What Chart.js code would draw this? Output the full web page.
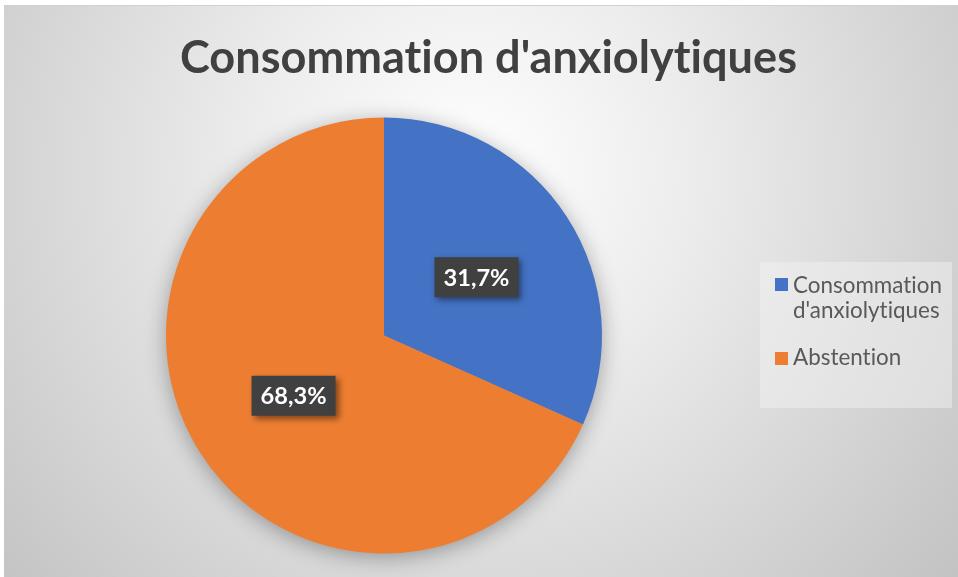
<!DOCTYPE html>
<html>
<head>
<meta charset="utf-8">
<script src="https://cdn.jsdelivr.net/npm/chart.js@4"></script>
<style>
html,body{margin:0;padding:0;background:#fff;}
canvas{display:block;font-variant-ligatures:none;}
</style>
</head>
<body>
<canvas id="c" width="958" height="577"></canvas>
<script>
const chartTitle = "Consommation d'anxiolytiques";
const categories = ["Consommation d'anxiolytiques", "Abstention"];
const legendLines = [["Consommation", "d'anxiolytiques"], ["Abstention"]];
const values = [31.7, 68.3];
const valueLabels = ["31,7%", "68,3%"];
const sliceColors = ["#4472C4", "#ED7D31"];

const FONT = "Lato, 'Open Sans', sans-serif";

function noLig(ctx) {
  if ('letterSpacing' in ctx) ctx.letterSpacing = '0.01px';
}
function fitFont(ctx, text, weight, target) {
  ctx.font = weight + " 100px " + FONT;
  noLig(ctx);
  const w = ctx.measureText(text).width;
  return 100 * target / w;
}

const bgPlugin = {
  id: 'bg',
  beforeDraw(chart) {
    const ctx = chart.ctx;
    ctx.save();
    ctx.fillStyle = '#ffffff';
    ctx.fillRect(0, 0, chart.width, chart.height);
    const g = ctx.createRadialGradient(470, 170, 0, 470, 170, 640);
    g.addColorStop(0, '#ffffff');
    g.addColorStop(0.35, '#ececec');
    g.addColorStop(1, '#c2c2c2');
    ctx.fillStyle = g;
    ctx.fillRect(4, 5, 954, 572);
    ctx.strokeStyle = '#d0d0d0';
    ctx.lineWidth = 1;
    ctx.beginPath(); ctx.moveTo(4, 5.5); ctx.lineTo(958, 5.5); ctx.stroke();
    // title
    const size = fitFont(ctx, chartTitle, 'bold', 617);
    ctx.font = 'bold ' + size + 'px ' + FONT;
    noLig(ctx);
    ctx.fillStyle = '#404040';
    ctx.textAlign = 'left';
    ctx.textBaseline = 'alphabetic';
    ctx.fillText(chartTitle, 180, 73);
    ctx.restore();
  },
  beforeDatasetsDraw(chart) {
    const arc = chart.getDatasetMeta(0).data[0];
    if (!arc) return;
    const ctx = chart.ctx;
    ctx.save();
    ctx.shadowColor = 'rgba(0,0,0,0.35)';
    ctx.shadowBlur = 22;
    ctx.shadowOffsetY = 4;
    ctx.fillStyle = '#999';
    ctx.beginPath();
    ctx.arc(arc.x, arc.y, arc.outerRadius - 1, 0, Math.PI * 2);
    ctx.fill();
    ctx.restore();
  },
  afterDatasetsDraw(chart) {
    const ctx = chart.ctx;
    const meta = chart.getDatasetMeta(0);
    const fsize = fitFont(ctx, valueLabels[0], 'bold', 66);
    meta.data.forEach((arc, i) => {
      const p = arc.tooltipPosition();
      const bw = 84, bh = 40;
      const bx = p.x - bw / 2 + 1, by = p.y - bh / 2 + 1;
      ctx.save();
      ctx.shadowColor = 'rgba(0,0,0,0.45)';
      ctx.shadowBlur = 6;
      ctx.shadowOffsetX = 3;
      ctx.shadowOffsetY = 3;
      ctx.fillStyle = '#404040';
      ctx.fillRect(bx, by, bw, bh);
      ctx.restore();
      ctx.save();
      ctx.font = 'bold ' + fsize + 'px ' + FONT;
      noLig(ctx);
      ctx.fillStyle = '#ffffff';
      ctx.textAlign = 'center';
      ctx.textBaseline = 'middle';
      ctx.fillText(valueLabels[i], bx + bw / 2, by + bh / 2 + 1);
      ctx.restore();
    });
  },
  afterDraw(chart) {
    const ctx = chart.ctx;
    ctx.save();
    ctx.fillStyle = 'rgba(245,245,245,0.45)';
    ctx.fillRect(760, 262, 192, 146);
    const fs = fitFont(ctx, legendLines[0][0], 'normal', 149);
    ctx.font = fs + 'px ' + FONT;
    noLig(ctx);
    ctx.textAlign = 'left';
    ctx.textBaseline = 'alphabetic';
    const baselines = [[293, 318], [365]];
    const squareY = [278, 352];
    legendLines.forEach((lines, i) => {
      ctx.fillStyle = sliceColors[i];
      ctx.fillRect(775, squareY[i], 13, 13);
      ctx.fillStyle = '#595959';
      lines.forEach((ln, j) => ctx.fillText(ln, 793, baselines[i][j]));
    });
    ctx.restore();
  }
};

new Chart(document.getElementById('c'), {
  type: 'pie',
  data: {
    labels: categories,
    datasets: [{
      data: values,
      backgroundColor: sliceColors,
      borderWidth: 0
    }]
  },
  options: {
    responsive: false,
    animation: false,
    devicePixelRatio: 1,
    layout: { padding: { left: 166, right: 356, top: 117, bottom: 23 } },
    plugins: {
      legend: { display: false },
      title: { display: false },
      tooltip: { enabled: false }
    }
  },
  plugins: [bgPlugin]
});
</script>
</body>
</html>
